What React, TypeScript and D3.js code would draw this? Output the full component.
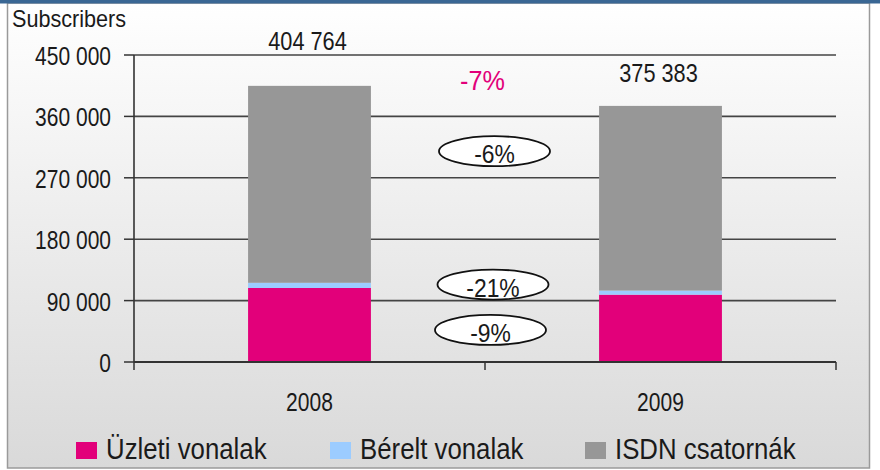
import * as d3 from "d3";

const years = ["2008", "2009"];
const uzleti = [108500, 98700];
const berelt = [7600, 6000];
const isdn = [288664, 270683];
const totals = [404764, 375383];
const yTicks = [0, 90000, 180000, 270000, 360000, 450000];
const seriesNames = ["Üzleti vonalak", "Bérelt vonalak", "ISDN csatornák"];
const colors = ["#e2007a", "#9cccff", "#979797"];
const changeLabels = ["-6%", "-21%", "-9%"];
const changeLevels = [309000, 113500, 47000];

const font = "'Liberation Sans', Arial, sans-serif";

type TProps = {
  x: number;
  y: number;
  size: number;
  sx?: number;
  anchor?: "start" | "middle" | "end";
  fill?: string;
  children: any;
};

// condensed text: squeeze horizontally around the anchor point
const T = ({ x, y, size, sx = 0.85, anchor = "start", fill = "#1a1a1a", children }: TProps) => (
  <text
    transform={`translate(${x},${y}) scale(${sx},1)`}
    textAnchor={anchor}
    fontFamily={font}
    fontSize={size}
    fill={fill}
  >
    {children}
  </text>
);

const App = () => {
  const width = 880;
  const height = 470;
  const margin = { top: 55, left: 134, right: 44, bottom: 108 };
  const plotW = width - margin.left - margin.right;

  const x = d3.scaleBand().domain(years).range([margin.left, margin.left + plotW]);
  const y = d3.scaleLinear().domain([0, 450000]).range([362, margin.top]);
  const bw = x.bandwidth() * 0.35;
  const fmt = (v: number) => d3.format(",")(v).replace(/,/g, " ");
  const cx = (yr: string) => (x(yr) as number) + x.bandwidth() / 2;

  const stacked = years.map((yr, i) => {
    const vals = [uzleti[i], berelt[i], isdn[i]];
    let acc = 0;
    return vals.map((v, k) => {
      const s = { y0: acc, y1: acc + v, k };
      acc += v;
      return s;
    });
  });

  const totalLabelY = [50, 82];
  const ellipseX = [494.5, 493, 490.5];
  const legendX = [76, 330, 585];

  return (
    <svg width={width} height={height} style={{ position: "absolute", left: 0, top: 0 }}>
      <defs>
        <linearGradient id="bg" x1="0" y1="0" x2="0" y2="1">
          <stop offset="0%" stopColor="#ffffff" />
          <stop offset="100%" stopColor="#d9d9d9" />
        </linearGradient>
      </defs>
      <rect x={0} y={0} width={width} height={height} fill="#fff" />
      <rect x={7.5} y={3} width={862} height={465} fill="url(#bg)" stroke="#9a9a9a" strokeWidth={1.5} />
      <rect x={0} y={0} width={width} height={3.5} fill="#3a6794" />

      <T x={12} y={27} size={23} sx={0.94}>Subscribers</T>

      {yTicks.map((t) => (
        <g key={t}>
          {t > 0 && (
            <line x1={margin.left} x2={margin.left + plotW} y1={y(t)} y2={y(t)} stroke="#444" strokeWidth={1.6} />
          )}
          <line x1={124} x2={margin.left} y1={y(t)} y2={y(t)} stroke="#333" strokeWidth={1.5} />
          <T x={111} y={y(t) + 10} size={25} sx={0.84} anchor="end">{fmt(t)}</T>
        </g>
      ))}

      {stacked.map((segs, i) =>
        segs.map((s) => (
          <rect
            key={`${i}-${s.k}`}
            x={cx(years[i]) - bw / 2}
            y={y(s.y1)}
            width={bw}
            height={y(s.y0) - y(s.y1)}
            fill={colors[s.k]}
          />
        ))
      )}

      <line x1={margin.left} x2={margin.left} y1={y(450000)} y2={y(0)} stroke="#333" strokeWidth={1.6} />
      <line x1={margin.left} x2={margin.left + plotW} y1={y(0)} y2={y(0)} stroke="#333" strokeWidth={2} />
      {[0, 1, 2].map((k) => (
        <line
          key={k}
          x1={margin.left + k * x.bandwidth()}
          x2={margin.left + k * x.bandwidth()}
          y1={y(0)}
          y2={y(0) + 8}
          stroke="#333"
          strokeWidth={1.5}
        />
      ))}

      {years.map((yr, i) => (
        <g key={yr}>
          <T x={cx(yr)} y={411} size={26} sx={0.81} anchor="middle">{yr}</T>
          <T x={cx(yr) - 2} y={totalLabelY[i]} size={25} sx={0.87} anchor="middle">{fmt(totals[i])}</T>
        </g>
      ))}

      <T x={482.5} y={90} size={28} sx={0.9} anchor="middle" fill="#e2007a">-7%</T>

      {changeLabels.map((c, k) => {
        const ey = y(changeLevels[k]);
        return (
          <g key={c}>
            <ellipse cx={ellipseX[k]} cy={ey} rx={55.5} ry={15} fill="#fff" stroke="#111" strokeWidth={1.8} />
            <T x={ellipseX[k]} y={ey + 12} size={26} sx={0.88} anchor="middle">{c}</T>
          </g>
        );
      })}

      {seriesNames.map((n, k) => (
        <g key={n}>
          <rect x={legendX[k]} y={442} width={21} height={17} fill={colors[k]} />
          <T x={legendX[k] + 30} y={459} size={30} sx={0.86}>{n}</T>
        </g>
      ))}
    </svg>
  );
};

export default App;
